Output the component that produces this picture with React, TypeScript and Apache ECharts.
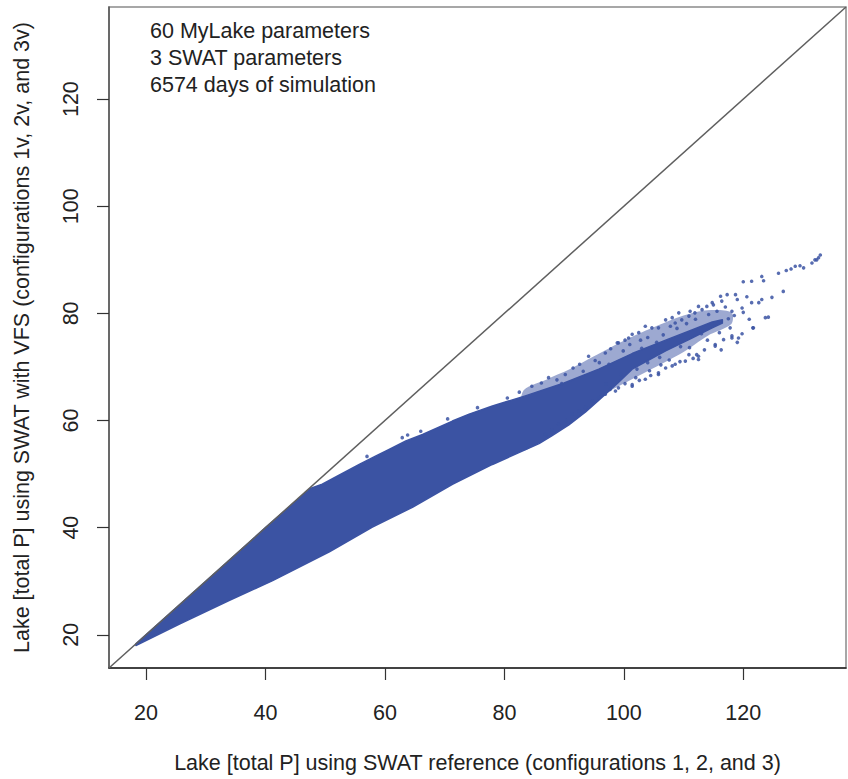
import React, { useEffect, useRef } from "react";
import * as echarts from "echarts";

// Axis settings
const AXIS_MIN = 13.8;
const AXIS_MAX = 137.2;
const xTicks = [20, 40, 60, 80, 100, 120];
const yTicks = [20, 40, 60, 80, 100, 120];

const xTitle = "Lake [total P] using SWAT reference (configurations 1, 2, and 3)";
const yTitle = "Lake [total P] using SWAT with VFS (configurations 1v, 2v, and 3v)";
const noteLines = ["60 MyLake parameters", "3 SWAT parameters", "6574 days of simulation"];

// 1:1 reference line
const oneToOne = [
  [AXIS_MIN, AXIS_MIN],
  [AXIS_MAX, AXIS_MAX],
];

// Envelope of the dense point cloud
const cloudUpper = [
  [18.3, 18.3], [30, 30], [40, 40], [47.5, 47.3], [49.5, 48.1], [52, 49.6],
  [55.7, 51.8], [58.5, 53.4], [60.7, 54.6], [63.5, 56.2], [66.3, 57.4],
  [71.3, 59.9], [74.1, 61.2], [78.0, 62.7], [83.5, 64.6], [86, 65.5], [90, 67.0],
  [95.8, 69.6], [101.4, 72.5], [107, 75.0], [111.4, 76.9], [114.8, 78.4], [116.5, 78.8],
];
const cloudLower = [
  [116.5, 78.2], [114.8, 77.3], [111.4, 75.4], [107, 73.0], [101.4, 69.6], [99, 67.0],
  [96, 64.0], [93.6, 61.6], [90.8, 59.2], [88, 57.2], [85.8, 55.7], [78.0, 51.8],
  [71.3, 48.1], [64.6, 43.8], [57.9, 40.1], [50.7, 35.5], [41.2, 30.1], [33.9, 26.4],
  [25.6, 22.0], [18.3, 18.0],
];

// Looser, speckled band around the tail of the cloud
const hazeUpper = [
  [83, 65.2], [87, 67.6], [91, 69.6], [95, 72.0], [100, 74.9], [105, 77.4], [110, 79.6],
  [114, 80.6], [118, 80.2],
];
const hazeLower = [
  [118, 78.0], [114, 75.8], [110, 72.8], [105, 69.8], [100, 66.9], [96, 64.4], [92, 61.0],
  [88.5, 57.9], [86, 56.0], [83, 54.6],
];

// Sparse points in the tail of the cloud
const tailPoints = [
  [84.6, 66.4], [86.2, 67.0], [87.4, 68.0], [88.8, 67.6], [90.2, 68.6], [91.5, 69.8], [92.6, 70.5],
  [94.1, 72.0], [95.2, 71.2], [96.9, 72.6], [97.8, 73.4], [98.9, 74.5], [99.1, 74.5], [100.2, 75.0],
  [100.8, 75.4], [101.4, 76.1], [102.5, 76.4], [103.6, 77.6], [104.7, 77.3], [105.8, 77.3],
  [107.0, 78.8], [107.8, 77.6], [108.1, 79.2], [108.6, 78.2], [109.2, 80.1], [109.7, 78.8],
  [110.9, 79.5], [111.1, 80.4], [111.9, 80.1], [112.5, 81.3], [113.1, 80.7], [113.9, 81.3],
  [114.8, 82.0], [115.0, 81.6], [116.2, 83.2], [116.4, 82.3], [117.3, 83.5], [118.1, 80.4],
  [118.7, 83.5], [119.8, 81.0], [120.0, 85.9], [121.4, 86.0], [121.4, 82.0], [122.6, 82.0],
  [123.1, 86.9], [123.1, 82.6], [123.4, 86.1], [124.8, 83.0], [125.9, 87.5], [126.7, 84.1],
  [128.0, 88.3], [128.7, 88.8], [130.1, 88.5], [131.5, 89.4], [132.0, 90.0], [132.3, 90.0],
  [132.9, 90.9], [132.6, 90.4], [129.5, 88.9], [127.2, 88.0],
  [86.9, 57.4], [88.0, 58.2], [89.1, 59.3], [90.3, 60.0], [91.3, 61.2], [92.5, 61.8], [93.6, 62.4],
  [94.7, 63.6], [95.8, 64.3], [96.9, 64.9], [97.7, 65.8], [98.6, 65.5], [99.1, 66.1], [100.2, 66.9],
  [101.4, 66.4], [101.4, 66.7], [102.6, 67.5], [103.6, 67.7], [104.5, 68.4], [105.8, 68.6],
  [105.8, 68.9], [107.0, 69.8], [108.1, 70.2], [108.6, 70.5], [109.4, 71.0], [110.3, 71.1],
  [110.9, 72.3], [111.6, 71.6], [112.2, 72.3], [112.5, 71.4], [112.5, 72.0], [113.5, 73.2],
  [115.3, 73.9], [115.3, 74.2], [116.7, 75.1], [118.1, 75.4], [118.1, 75.8], [119.2, 75.4],
  [119.8, 76.2], [121.6, 77.3], [121.7, 77.3], [123.7, 79.2], [124.2, 79.3],
  [97.0, 66.8], [99.5, 68.6], [102.2, 69.6], [104.0, 70.8], [106.0, 71.8], [103.0, 73.5],
  [105.5, 74.6], [109.5, 73.8], [113.0, 76.2], [117.5, 79.0], [118.5, 79.6], [120.0, 80.2],
  [97.5, 70.5], [99.9, 73.0], [104.0, 75.5], [106.6, 76.0], [108.9, 77.2], [110.5, 78.1],
  [112.0, 78.9], [114.2, 79.8], [115.6, 80.4], [117.0, 81.2], [119.0, 82.6], [120.6, 83.1],
  [101.0, 74.2], [102.8, 75.0], [95.9, 70.8], [93.2, 69.2], [89.6, 66.9],
  [107.6, 71.3], [106.2, 70.4], [104.3, 69.3], [102.0, 68.0], [111.0, 73.6], [114.0, 75.0],
  [116.0, 76.4], [117.8, 77.3], [121.0, 78.9], [116.3, 73.2], [119.0, 74.6],
  [62.9, 56.8], [63.8, 57.3], [66.0, 58.0], [57.0, 53.3], [70.5, 60.3], [75.5, 62.4],
  [80.5, 64.2], [82.5, 65.3],
];

const BLUE = "#3b53a3";
const FONT = '"Liberation Sans", Arial, Helvetica, sans-serif';

export default function App() {
  const ref = useRef<HTMLDivElement>(null);

  useEffect(() => {
    if (!ref.current) return;
    const chart = echarts.init(ref.current, undefined, { renderer: "svg" });
    const outline = [...cloudUpper, ...cloudLower];
    const haze = [...hazeUpper, ...hazeLower];

    chart.setOption({
      animation: false,
      backgroundColor: "#ffffff",
      textStyle: { fontFamily: FONT },
      grid: {
        left: 109,
        right: 2,
        top: 7,
        bottom: 108,
        show: true,
        borderColor: "#8a8a8a",
        borderWidth: 1.5,
        backgroundColor: "transparent",
      },
      xAxis: {
        type: "value",
        min: AXIS_MIN,
        max: AXIS_MAX,
        name: xTitle,
        nameLocation: "middle",
        nameGap: 84,
        nameTextStyle: { fontSize: 21.5, color: "#222", fontFamily: FONT },
        axisLine: { show: true, onZero: false, lineStyle: { color: "#222", width: 1.5 } },
        axisTick: { show: true, inside: false, length: 12, customValues: xTicks, lineStyle: { color: "#333", width: 1.2 } },
        axisLabel: { show: true, customValues: xTicks, margin: 34, fontSize: 21.5, color: "#222", fontFamily: FONT },
        splitLine: { show: false },
      },
      yAxis: {
        type: "value",
        min: AXIS_MIN,
        max: AXIS_MAX,
        name: yTitle,
        nameLocation: "middle",
        nameGap: 76,
        nameRotate: 90,
        nameTextStyle: { fontSize: 21.5, color: "#222", fontFamily: FONT },
        axisLine: { show: true, onZero: false, lineStyle: { color: "#555", width: 1.5 } },
        axisTick: { show: true, inside: false, length: 12, customValues: yTicks, lineStyle: { color: "#333", width: 1.2 } },
        axisLabel: { show: true, customValues: yTicks, rotate: 90, margin: 27, fontSize: 21.5, color: "#222", fontFamily: FONT },
        splitLine: { show: false },
      },
      graphic: [
        {
          type: "text",
          left: 150,
          top: 18,
          style: {
            text: noteLines.join("\n"),
            font: `21.5px ${FONT}`,
            lineHeight: 26.7,
            fill: "#222",
          },
        },
      ],
      series: [
        {
          type: "custom",
          clip: true,
          silent: true,
          data: [hazeUpper[0]],
          renderItem: (_params: any, api: any) => {
            const pts = haze.map((p) => api.coord(p));
            return {
              type: "polygon",
              shape: { points: pts, smooth: 0.3 },
              style: { fill: BLUE, opacity: 0.5, stroke: "none" },
            };
          },
          z: 1,
        },
        {
          type: "custom",
          clip: true,
          silent: true,
          data: [cloudUpper[0]],
          renderItem: (_params: any, api: any) => {
            const pts = outline.map((p) => api.coord(p));
            return {
              type: "polygon",
              shape: { points: pts },
              style: { fill: BLUE, stroke: BLUE, lineWidth: 1.5, lineJoin: "round" },
            };
          },
          z: 2,
        },
        {
          type: "scatter",
          data: tailPoints,
          symbol: "circle",
          symbolSize: 3.6,
          itemStyle: { color: BLUE, opacity: 0.85 },
          silent: true,
          z: 3,
        },
        {
          type: "line",
          data: oneToOne,
          symbol: "none",
          lineStyle: { color: "#5f5f5f", width: 1.5 },
          silent: true,
          z: 4,
        },
      ],
    });

    return () => chart.dispose();
  }, []);

  return (
    <div
      ref={ref}
      style={{ position: "fixed", left: 0, top: 0, width: 848, height: 779, background: "#fff" }}
    />
  );
}
